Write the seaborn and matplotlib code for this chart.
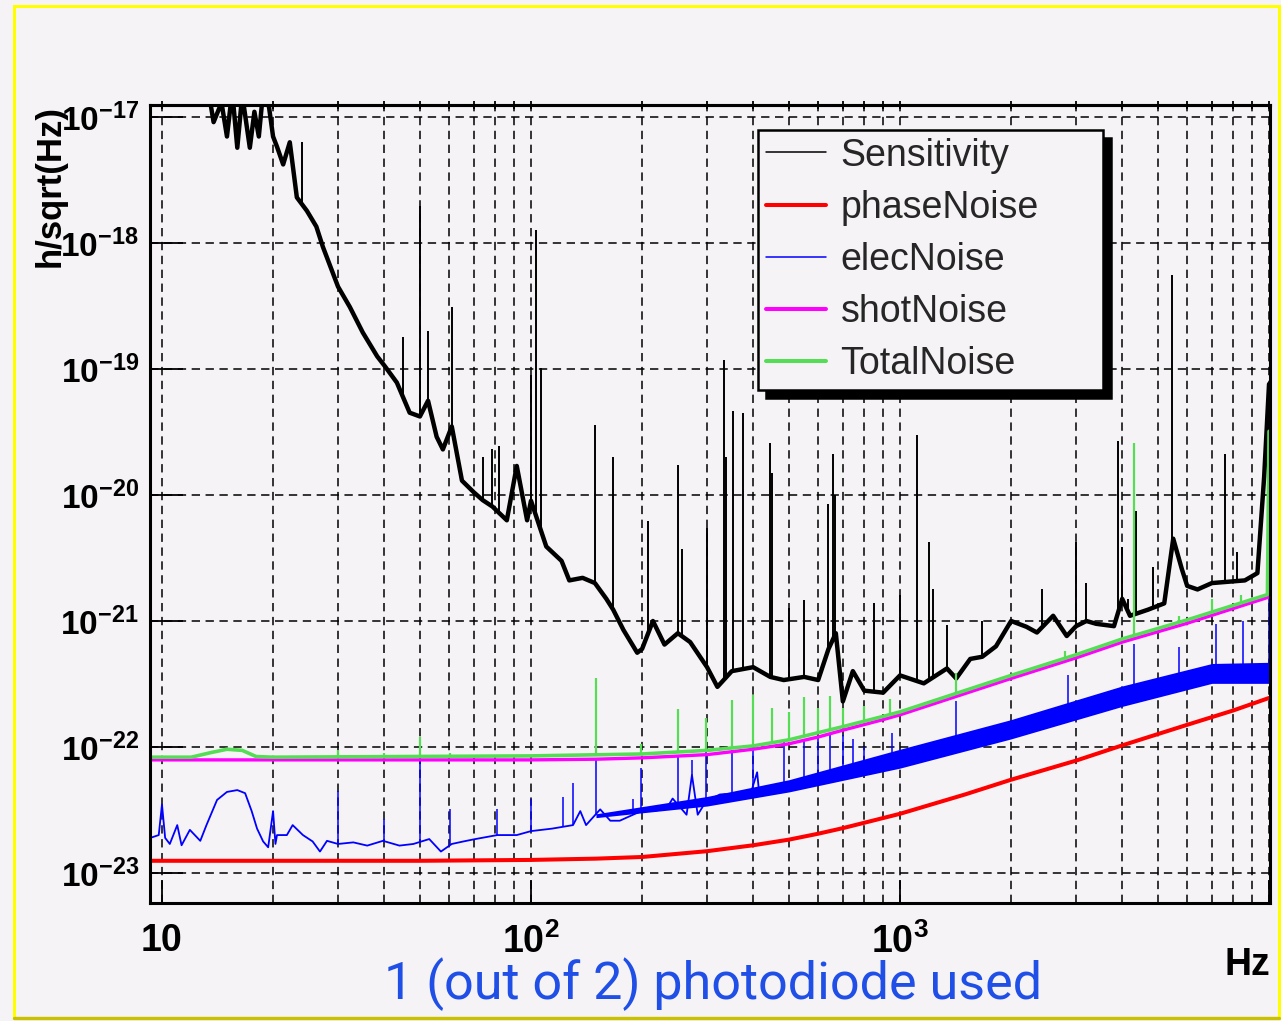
import numpy as np
import pandas as pd
import matplotlib
matplotlib.use("Agg")
import matplotlib.pyplot as plt
from matplotlib.patches import Rectangle
from matplotlib.lines import Line2D
from matplotlib.ticker import NullFormatter
import seaborn as sns

# ---- data (Hz, strain/sqrt(Hz)) ----
sens_f = [9.3, 10, 12, 12.7, 13.2, 13.8, 14.5, 15.0, 15.5, 16, 16.5, 17.3, 17.8, 18.3, 18.8,
          19.5, 20.0, 20.5, 21.3, 22.2, 23.2, 24.7, 26.2, 27.3, 30, 32.3, 35, 38.3, 40.2,
          43.3, 46.9, 50, 52.6, 55.5, 57.7, 61, 65, 70, 74, 78.6, 86, 91.5, 97.6, 100, 110,
          121, 127, 138, 149, 160, 167, 178, 194, 200, 214, 230, 250, 270, 300, 320, 350,
          400, 445, 484, 550, 600, 640, 670, 700, 745, 800, 900, 1000, 1160, 1340, 1420,
          1550, 1670, 1820, 2000, 2200, 2350, 2600, 2830, 3000, 3200, 3400, 3800, 4000,
          4200, 4700, 5200, 5500, 5800, 6000, 6400, 7000, 8600, 9300, 9700, 10000]
sens_v = [3e-17, 3e-17, 2.5e-17, 1.3e-17, 2e-17, 9.1e-18, 1.3e-17, 7e-18, 1.6e-17, 5.7e-18,
          1.5e-17, 5.7e-18, 1.1e-17, 7e-18, 1.6e-17, 1.2e-17, 7e-18, 5.8e-18, 4.2e-18,
          6.3e-18, 2.3e-18, 1.8e-18, 1.35e-18, 9.3e-19, 4.5e-19, 3.1e-19, 1.95e-19, 1.26e-19,
          1.05e-19, 7.8e-20, 4.5e-20, 4.2e-20, 5.6e-20, 2.9e-20, 2.3e-20, 3.5e-20, 1.3e-20,
          1.05e-20, 9.1e-21, 8.1e-21, 6.3e-21, 1.7e-20, 6.3e-21, 9e-21, 3.9e-21, 3.0e-21,
          2.1e-21, 2.2e-21, 2.0e-21, 1.5e-21, 1.23e-21, 8.5e-22, 5.6e-22, 6.0e-22, 1.0e-21,
          6.5e-22, 8e-22, 6.8e-22, 4.3e-22, 3.0e-22, 4.0e-22, 4.3e-22, 3.6e-22, 3.4e-22,
          3.6e-22, 3.4e-22, 6e-22, 8e-22, 2.3e-22, 4e-22, 2.8e-22, 2.7e-22, 3.7e-22, 3.2e-22,
          4.2e-22, 3.5e-22, 5.0e-22, 5.2e-22, 6.3e-22, 1.0e-21, 9.0e-22, 8.1e-22, 1.1e-21,
          7.6e-22, 9.1e-22, 1.0e-21, 9.5e-22, 9.1e-22, 1.5e-21, 1.1e-21, 1.23e-21, 1.38e-21,
          4.5e-21, 2.6e-21, 1.9e-21, 1.78e-21, 2.0e-21, 2.1e-21, 2.4e-21, 1.4e-20, 7.6e-20]
sens_spike_f = [24, 45, 50, 52.6, 61, 74, 78.6, 82, 100, 103, 106.4, 149, 167, 208, 250,
                256, 300, 333, 338, 352, 375, 445, 450, 500, 549, 640, 660, 668, 850, 1000,
                1110, 1200, 1230, 1340, 1670, 2420, 3000, 3200, 3900, 4000, 4150, 4350,
                4850, 5450, 7600, 8200]
sens_spike_v = [6.3e-18, 1.8e-19, 1.95e-18, 2e-19, 3.1e-19, 2e-20, 2.3e-20, 2.45e-20,
                8.9e-20, 1.26e-18, 1.02e-19, 3.6e-20, 2e-20, 6.2e-21, 1.74e-20, 3.7e-21,
                5.5e-21, 1.17e-19, 2e-20, 4.6e-20, 4.5e-20, 2.6e-20, 1.5e-20, 1.26e-21,
                1.48e-21, 8.5e-21, 2.1e-20, 1e-20, 1.4e-21, 1.6e-21, 3e-20, 4.2e-21, 1.8e-21,
                9.3e-22, 1e-21, 1.8e-21, 4.2e-21, 2e-21, 2.7e-20, 3.9e-21, 1.5e-21, 7.4e-21,
                2.7e-21, 5.6e-19, 2.1e-20, 3.5e-21]

phase_f = [9.3, 50, 100, 150, 200, 300, 400, 500, 600, 700, 1000, 1500, 2000, 3000, 4000,
           6000, 8000, 10000]
phase_v = [1.25e-23, 1.25e-23, 1.27e-23, 1.3e-23, 1.34e-23, 1.49e-23, 1.66e-23, 1.84e-23,
           2.05e-23, 2.27e-23, 2.95e-23, 4.2e-23, 5.5e-23, 7.8e-23, 1.03e-22, 1.5e-22,
           1.95e-22, 2.45e-22]

elec_f = [9.3, 9.8, 10.0, 10.2, 10.5, 11, 11.3, 11.9, 12.7, 13.2, 14.1, 15, 16, 16.8, 17.5,
          18.1, 18.8, 19.4, 20, 20.3, 20.5, 21.8, 22.6, 24.1, 25.6, 26.8, 28, 30, 33, 36,
          39.7, 44, 48, 53, 57, 61, 65.6, 70, 81, 91.5, 100, 114, 130, 136, 141, 154, 164,
          174, 189, 199, 214, 233, 242, 264, 273, 283, 298, 325, 368, 395, 410, 415, 445,
          500, 550, 600, 700, 800, 865, 1000, 1450, 2000, 3000, 4150, 6200, 7800, 9300, 10000]
elec_v = [1.9e-23, 2.0e-23, 3.5e-23, 1.9e-23, 1.7e-23, 2.4e-23, 1.66e-23, 2.2e-23, 1.8e-23,
          2.4e-23, 3.8e-23, 4.4e-23, 4.55e-23, 4.3e-23, 3.1e-23, 2.25e-23, 1.78e-23, 1.6e-23,
          3.1e-23, 1.7e-23, 2.0e-23, 2.0e-23, 2.4e-23, 2.0e-23, 1.78e-23, 1.48e-23, 1.8e-23,
          1.7e-23, 1.75e-23, 1.65e-23, 1.8e-23, 1.65e-23, 1.7e-23, 1.86e-23, 1.48e-23, 1.7e-23,
          1.78e-23, 1.85e-23, 2.0e-23, 2.0e-23, 2.15e-23, 2.25e-23, 2.4e-23, 3.1e-23, 2.4e-23,
          3.2e-23, 2.6e-23, 2.6e-23, 2.9e-23, 3.1e-23, 3.1e-23, 3.25e-23, 3.9e-23, 2.9e-23,
          6.0e-23, 2.9e-23, 3.7e-23, 4.2e-23, 4.3e-23, 4.4e-23, 6.3e-23, 4.4e-23, 4.4e-23,
          4.9e-23, 5.6e-23, 6.0e-23, 6.5e-23, 7.6e-23, 8.1e-23, 8.5e-23, 1.07e-22, 1.38e-22,
          2.0e-22, 2.57e-22, 3.5e-22, 4.0e-22, 3.9e-22, 3.9e-22]
elec_band_f = [150, 300, 500, 1000, 2000, 4000, 7000, 10000]
elec_band_lo = [2.75e-23, 3.4e-23, 4.4e-23, 6.8e-23, 1.16e-22, 2.1e-22, 3.2e-22, 3.2e-22]
elec_band_hi = [2.95e-23, 4.05e-23, 5.5e-23, 9.6e-23, 1.65e-22, 3.05e-22, 4.6e-22, 4.7e-22]
elec_spike_f = [30, 40, 50, 60.4, 81, 100, 122, 130, 149.6, 189, 199, 250, 273, 298, 350,
                400, 484, 550, 600, 645, 700, 745, 800, 950, 1420, 2850, 4300, 5700, 7200,
                8500, 10000]
elec_spike_v = [4.5e-23, 2.7e-23, 7.9e-23, 3.2e-23, 3.2e-23, 3.9e-23, 4e-23, 5.2e-23, 8.1e-23,
                3.9e-23, 6.8e-23, 8.7e-23, 7.9e-23, 9.5e-23, 9.5e-23, 1.0e-22, 1.1e-22,
                1.15e-22, 1.2e-22, 1.25e-22, 1.25e-22, 1.15e-22, 1.0e-22, 1.3e-22, 2.3e-22,
                3.7e-22, 6.6e-22, 6.2e-22, 9.5e-22, 1.0e-21, 1.7e-21]

shot_f = [9.3, 100, 150, 200, 300, 400, 500, 600, 700, 900, 1000, 2000, 3000, 4000, 6000, 10000]
shot_v = [7.9e-23, 7.9e-23, 8.0e-23, 8.2e-23, 8.7e-23, 9.6e-23, 1.06e-22, 1.2e-22, 1.36e-22,
          1.65e-22, 1.8e-22, 3.5e-22, 5.1e-22, 6.8e-22, 9.6e-22, 1.55e-21]

total_f = [9.3, 12, 13.5, 15, 16.5, 18, 20, 100, 200, 300, 400, 500, 700, 900, 1000, 2000,
           3000, 4000, 6000, 9900, 10000]
total_v = [8.3e-23, 8.3e-23, 9.0e-23, 9.6e-23, 9.4e-23, 8.4e-23, 8.3e-23, 8.5e-23, 8.8e-23,
           9.4e-23, 1.02e-22, 1.14e-22, 1.45e-22, 1.75e-22, 1.9e-22, 3.7e-22, 5.4e-22,
           7.2e-22, 1.02e-21, 1.62e-21, 3.2e-20]
total_spike_f = [30, 40, 50, 60.4, 149.6, 199, 250, 298, 350, 400, 449, 500, 550, 600, 645,
                 700, 800, 940, 1420, 2800, 4300, 5700, 7000, 8400]
total_spike_v = [9.5e-23, 8.9e-23, 1.2e-22, 8.9e-23, 3.55e-22, 1.05e-22, 2.0e-22, 1.7e-22,
                 2.35e-22, 2.6e-22, 2.05e-22, 1.9e-22, 2.5e-22, 2.05e-22, 2.55e-22, 2.05e-22,
                 2.1e-22, 2.4e-22, 3.9e-22, 5.8e-22, 2.6e-20, 1.1e-21, 1.5e-21, 1.6e-21]

labels = ["Sensitivity", "phaseNoise", "elecNoise", "shotNoise", "TotalNoise"]
colors = ["black", "#ff0000", "#0000ff", "#ff00ff", "#55dd55"]

W, H = 1281, 1021
bg = "#f6f3f6"

sns.set_theme(style="white")
plt.rcParams["font.family"] = ["Liberation Sans", "DejaVu Sans"]
plt.rcParams["lines.scale_dashes"] = False
plt.rcParams["axes.unicode_minus"] = False

fig = plt.figure(figsize=(W / 100, H / 100), dpi=100, facecolor=bg)
ax = fig.add_axes([150 / W, 1 - 903 / H, 1120 / W, 798 / H])
ax.set_facecolor(bg)
ax.set_xscale("log")
ax.set_yscale("log")


def draw_spikes(f, top, base_f, base_v, color, lw):
    base = 10 ** np.interp(np.log10(f), np.log10(base_f), np.log10(base_v))
    ax.vlines(f, base, top, colors=color, linewidth=lw, zorder=3)


# Sensitivity
draw_spikes(sens_spike_f, sens_spike_v, sens_f, sens_v, "black", 1.4)
sns.lineplot(x=sens_f, y=sens_v, color="black", linewidth=3.2, estimator=None,
             sort=False, ax=ax, label=labels[0], zorder=3)
# phase noise
sns.lineplot(x=phase_f, y=phase_v, color=colors[1], linewidth=2.9, estimator=None,
             sort=False, ax=ax, label=labels[1], zorder=4)
# electronic noise
ax.fill_between(elec_band_f, elec_band_lo, elec_band_hi, color=colors[2], lw=0, zorder=4)
draw_spikes(elec_spike_f, elec_spike_v, elec_f, elec_v, colors[2], 1.1)
sns.lineplot(x=elec_f, y=elec_v, color=colors[2], linewidth=1.3, estimator=None,
             sort=False, ax=ax, label=labels[2], zorder=4)
# shot noise
sns.lineplot(x=shot_f, y=shot_v, color=colors[3], linewidth=2.4, estimator=None,
             sort=False, ax=ax, label=labels[3], zorder=5)
# total noise
draw_spikes(total_spike_f, total_spike_v, total_f, total_v, colors[4], 1.6)
sns.lineplot(x=total_f, y=total_v, color=colors[4], linewidth=2.6, estimator=None,
             sort=False, ax=ax, label=labels[4], zorder=6)

# frame, ticks, grid
for s in ax.spines.values():
    s.set_color("black")
    s.set_linewidth(2.2)
    s.set_zorder(10)

xmaj = [10, 100, 1000, 10000]
xmin = [k * 10 ** d for d in (1, 2, 3) for k in range(2, 10)]
ax.set_xticks(xmaj, labels=["10", r"$\mathdefault{10^{2}}$", r"$\mathdefault{10^{3}}$", ""],
              fontsize=27, fontweight="bold", family=["Liberation Sans Narrow", "Liberation Sans"])
ax.set_xticks(xmin, minor=True)
ymaj = [10.0 ** e for e in range(-23, -16)]
ax.set_yticks(ymaj, labels=[r"$\mathdefault{10^{%d}}$" % e for e in range(-23, -16)],
              fontsize=24, fontweight="bold")
ax.set_yticks([k * 10.0 ** d for d in range(-24, -17) for k in range(2, 10)], minor=True)
ax.xaxis.set_minor_formatter(NullFormatter())
ax.yaxis.set_minor_formatter(NullFormatter())
ax.set_xlim(9.28, 10060)
ax.set_ylim(5.78e-24, 1.245e-17)

ax.tick_params(axis="x", which="major", direction="in", length=16.5, width=1.3, pad=14.5,
               color="black", labelcolor="black")
ax.tick_params(axis="x", which="minor", direction="in", length=9, width=1.3, color="black")
ax.tick_params(axis="y", which="major", direction="in", length=24, width=1.3, pad=8,
               color="black", labelcolor="black")
ax.tick_params(axis="y", which="minor", direction="in", length=12, width=1.3, color="black")
ax.tick_params(left=True, bottom=True)

top = ax.secondary_xaxis("top")
top.set_xticks(xmaj)
top.set_xticks(xmin, minor=True)
top.tick_params(which="both", direction="inout", length=6, width=1.3, labeltop=False,
                color="black")
top.spines["top"].set_linewidth(2.2)

grid_style = dict(color="black", linestyle=(0, (6, 4)), linewidth=1.1)
ax.grid(True, which="major", axis="y", **grid_style)
ax.grid(True, which="both", axis="x", **grid_style)
ax.set_axisbelow(True)

# legend
leg = ax.legend(loc="upper left", bbox_to_anchor=(758 / W, 1 - 386 / H, 345 / W, 256 / H),
                bbox_transform=fig.transFigure, mode="expand", borderaxespad=0,
                frameon=True, fancybox=False, framealpha=1, facecolor=bg, edgecolor="black",
                shadow={"color": "black", "alpha": 1, "ox": 5.8, "oy": -5.8},
                prop={"family": "Liberation Sans", "size": 27},
                handlelength=1.6, handletextpad=0.4, borderpad=0.2, labelspacing=0.43)
leg.get_frame().set_linewidth(1.8)
for h, lw in zip(leg.legend_handles, [1.1, 2.9, 1.1, 2.9, 2.9]):
    h.set_linewidth(lw)
leg.set_zorder(20)

# texts
fig.text(50 / W, 1 - 105 / H, "h/sqrt(Hz)", rotation=90, ha="center", va="top",
         fontsize=25, fontweight="bold", color="black")
fig.text(1270 / W, 1 - 965 / H, "Hz", ha="right", va="center", fontsize=27,
         fontweight="bold", family=["Liberation Sans Narrow", "Liberation Sans"], color="black")
fig.text(713 / W, 1 - 999 / H, "1 (out of 2) photodiode used", ha="center", va="baseline",
         fontsize=37.5, family=["Roboto", "DejaVu Sans"], color="#1f4fe6")

# yellow frame around the picture
fig.patches.append(Rectangle((14 / W, 1 - 1018 / H), 1265 / W, 1012 / H, transform=fig.transFigure,
                             fill=False, edgecolor="#ffff00", linewidth=2.2, zorder=30))
fig.lines.append(Line2D([14 / W, 1279 / W], [1 - 1018 / H, 1 - 1018 / H],
                        transform=fig.transFigure, color="#c8c000", linewidth=2.4, zorder=31))

fig.savefig("out.png", dpi=100, facecolor=bg)
